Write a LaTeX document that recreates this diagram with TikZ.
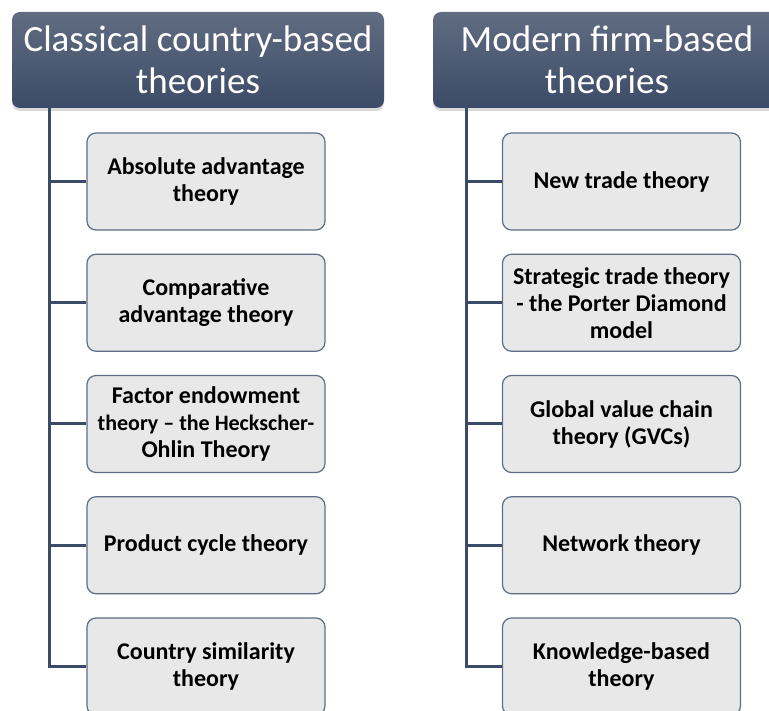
\documentclass[tikz,border=0pt]{standalone}
\usepackage{fontspec}
\setmainfont{Carlito}
\usetikzlibrary{calc}
\usetikzlibrary{shadows}

\definecolor{headtop}{HTML}{606C81}
\definecolor{headbot}{HTML}{3C4B67}
\definecolor{leaffill}{HTML}{E8E8E8}
\definecolor{leafedge}{HTML}{5E6E86}
\definecolor{linkcol}{HTML}{3B4A66}

\tikzset{
  head/.style={rounded corners=8pt, minimum height=96pt, top color=headtop, bottom color=headbot,
    text=white, align=center, inner sep=0pt, font=\fontsize{37}{42}\selectfont,
    drop shadow={opacity=0.3, shadow xshift=0pt, shadow yshift=-3pt}},
  leaf/.style={rounded corners=9pt, draw=leafedge, line width=1.2pt, fill=leaffill,
    minimum width=238pt, minimum height=97pt, align=center, inner sep=0pt,
    font=\bfseries\fontsize{24}{27}\selectfont},
  link/.style={draw=linkcol, line width=3pt}
}

\begin{document}
\begin{tikzpicture}[x=1pt, y=1pt]
  \useasboundingbox (0,0) rectangle (769,-711);
  \clip (0,0) rectangle (769,-711);

  % headers
  \node[head, minimum width=372pt] (hc) at (198,-60) {Classical country-based\\theories};
  \node[head, minimum width=348pt] (hm) at (607,-60) {Modern firm-based\\theories};

  % classical theories
  \node[leaf] (c1) at (206,-181.5) {Absolute advantage\\theory};
  \node[leaf] (c2) at (206,-302.75) {Comparative\\advantage theory};
  \node[leaf] (c3) at (206,-424) {Factor endowment\\{\fontsize{22}{27}\selectfont theory -- the Heckscher-}\\Ohlin Theory};
  \node[leaf] (c4) at (206,-545.25) {Product cycle theory};
  \node[leaf] (c5) at (206,-666.5) {Country similarity\\theory};

  % modern theories
  \node[leaf] (m1) at (621.5,-181.5) {New trade theory};
  \node[leaf] (m2) at (621.5,-302.75) {Strategic trade theory\\- the Porter Diamond\\model};
  \node[leaf] (m3) at (621.5,-424) {Global value chain\\theory (GVCs)};
  \node[leaf] (m4) at (621.5,-545.25) {Network theory};
  \node[leaf] (m5) at (621.5,-666.5) {Knowledge-based\\theory};

  % connectors
  \coordinate (tc) at ($(hc.south west)+(38,0)$);
  \coordinate (tm) at ($(hm.south west)+(34,0)$);
  \draw[link] (tc) |- (c5.west);
  \draw[link] (c1.west) -- (c1.west -| tc);
  \draw[link] (c2.west) -- (c2.west -| tc);
  \draw[link] (c3.west) -- (c3.west -| tc);
  \draw[link] (c4.west) -- (c4.west -| tc);
  \draw[link] (tm) |- (m5.west);
  \draw[link] (m1.west) -- (m1.west -| tm);
  \draw[link] (m2.west) -- (m2.west -| tm);
  \draw[link] (m3.west) -- (m3.west -| tm);
  \draw[link] (m4.west) -- (m4.west -| tm);
\end{tikzpicture}
\end{document}
